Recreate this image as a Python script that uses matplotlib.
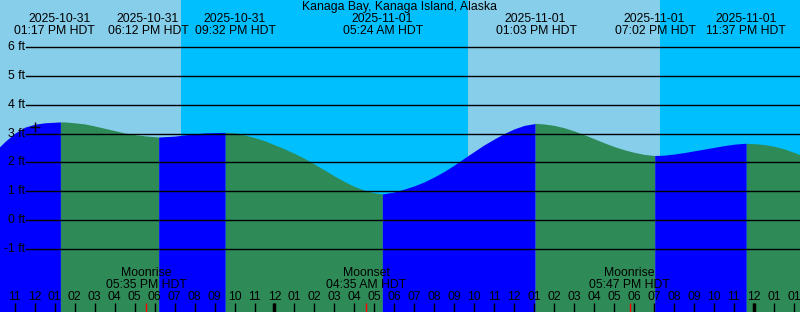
import matplotlib
matplotlib.use("Agg")
import matplotlib.pyplot as plt
import pandas as pd

plt.rcParams['font.family'] = ['Liberation Sans', 'DejaVu Sans']
plt.rcParams['font.size'] = 8.8

title = "Kanaga Bay, Kanaga Island, Alaska"

# high / low tides (HDT)
extreme_times = ["2025-10-31 13:17", "2025-10-31 18:12", "2025-10-31 21:32",
                 "2025-11-01 05:24", "2025-11-01 13:03", "2025-11-01 19:02",
                 "2025-11-01 23:37"]
extreme_heights = [3.40, 2.88, 3.04, 0.91, 3.35, 2.24, 2.66]

# half-hourly heights, starting 10 AM Oct 31
curve_start = "2025-10-31 10:00"
curve_heights = [2.38, 2.72, 3.01, 3.22, 3.32, 3.37, 3.39, 3.40, 3.37, 3.33,
                 3.26, 3.18, 3.10, 3.02, 2.96, 2.92, 2.89, 2.89, 2.91, 2.95,
                 2.99, 3.02, 3.03, 3.04, 3.02, 2.95, 2.86, 2.75,
                 2.61, 2.47, 2.31, 2.14, 1.94, 1.74, 1.53, 1.34, 1.17, 1.04,
                 0.95, 0.92, 0.98, 1.08, 1.19, 1.33, 1.50, 1.69, 1.91, 2.15,
                 2.38, 2.61, 2.81, 3.00, 3.16, 3.28, 3.34, 3.33, 3.28, 3.20,
                 3.09, 2.96, 2.82, 2.68, 2.55, 2.44, 2.35, 2.28, 2.24, 2.25,
                 2.29, 2.34, 2.40, 2.46, 2.52, 2.58, 2.63, 2.66, 2.65, 2.62,
                 2.56, 2.47, 2.35, 2.21, 2.06]

sun_times = ["2025-10-31 19:19", "2025-11-01 09:41", "2025-11-01 19:18"]

moon_times = ["2025-10-31 17:35", "2025-11-01 04:35", "2025-11-01 17:47"]
moon_names = ["Moonrise", "Moonset", "Moonrise"]

now_time = "2025-10-31 12:01"
now_height = 3.24

# hourly tick labels from 11 AM Oct 31 (clock falls back at 2 AM Nov 2)
tick_start = "2025-10-31 11:00"
tick_labels = ["11", "12",
               "01", "02", "03", "04", "05", "06", "07", "08", "09", "10", "11", "12",
               "01", "02", "03", "04", "05", "06", "07", "08", "09", "10", "11", "12",
               "01", "02", "03", "04", "05", "06", "07", "08", "09", "10", "11", "12",
               "01", "01"]
midnights = ["2025-11-01 00:00", "2025-11-02 00:00"]

ft_levels = [-1, 0, 1, 2, 3, 4, 5, 6]

base = pd.Timestamp("2025-11-01 00:00")
PX_PER_HR = 19.975


def hrs(ts):
    return (pd.to_datetime(ts) - base) / pd.Timedelta(hours=1)


day_col = "#87CEEB"
night_col = "#00BFFF"
rise_col = "#0000FF"
fall_col = "#2E8B57"

fig = plt.figure(figsize=(8, 3.12), dpi=100)
ax = fig.add_axes([0, 0, 1, 1])
x0 = -274.5 / PX_PER_HR
x1 = x0 + 800 / PX_PER_HR
y0, y1 = -3.170, 7.615
ax.set_xlim(x0, x1)
ax.set_ylim(y0, y1)
ax.axis('off')

# day / night background
sun_h = list(hrs(sun_times))
edges = [x0] + sun_h + [x1]
for i in range(len(edges) - 1):
    ax.axvspan(edges[i], edges[i + 1], color=day_col if i % 2 == 0 else night_col,
               lw=0, zorder=0)

# tide curve, blue while rising, green while falling
ext_h = list(hrs(extreme_times))
curve_t = pd.date_range(curve_start, periods=len(curve_heights), freq="30min")
tide = pd.DataFrame({"t": list(hrs(curve_t)) + ext_h,
                     "h": curve_heights + extreme_heights}).sort_values("t")
bounds = [tide.t.min()] + ext_h + [tide.t.max()]
for a, b in zip(bounds[:-1], bounds[1:]):
    seg = tide[(tide.t >= a) & (tide.t <= b)]
    rising = seg.h.iloc[-1] > seg.h.iloc[0]
    ax.fill_between(seg.t, seg.h, y0 - 1, color=rise_col if rising else fall_col,
                    lw=0, zorder=1)

# grid lines and height labels
ytrans = ax.get_yaxis_transform()
for lv in ft_levels:
    ax.axhline(lv, xmin=26 / 800, xmax=1, color="black", lw=1, zorder=2)
    ax.text(0.031, lv, f"{lv} ft", transform=ytrans, ha="right", va="center", zorder=3)

ax.plot(hrs(now_time), now_height, marker="+", ms=7.5, mew=1, color="black", zorder=3)

# title and tide labels
xtrans = ax.get_xaxis_transform()
ax.text(0.5, 1 - 7 / 312, title, transform=ax.transAxes, ha="center", va="center")
date_nudge = [-0.7, -10.8, 9.2, -0.4, -0.5, -0.9, 0]
time_nudge = [-5.9, -10.1, 9.8, 0.6, 0.8, 0.3, -0.2]
for t, s, dd, dt in zip(ext_h, extreme_times, date_nudge, time_nudge):
    ts = pd.Timestamp(s)
    ax.text(t + dd / PX_PER_HR, 1 - 19 / 312, ts.strftime("%Y-%m-%d"), transform=xtrans,
            ha="center", va="center", zorder=3)
    ax.text(t + dt / PX_PER_HR, 1 - 31 / 312, ts.strftime("%I:%M %p HDT"), transform=xtrans,
            ha="center", va="center", zorder=3)

# moon events
moon_h = list(hrs(moon_times))
for t, s, name in zip(moon_h, moon_times, moon_names):
    ax.text(t, 39 / 312, name, transform=xtrans, ha="center", va="center", zorder=3)
    ax.text(t, 27 / 312, pd.Timestamp(s).strftime("%I:%M %p HDT"), transform=xtrans,
            ha="center", va="center", zorder=3)

# hour ticks
tick_h = list(hrs(pd.date_range(tick_start, periods=len(tick_labels), freq="h")))
for t, lab in zip(tick_h, tick_labels):
    ax.text(t, 15 / 312, lab, transform=xtrans, ha="center", va="center", zorder=3)
ax.vlines(tick_h, 0, 9 / 312, transform=xtrans, color="black", lw=1, zorder=3)
ax.vlines(list(hrs(midnights)), 0, 9 / 312, transform=xtrans, color="black", lw=2.5, zorder=3)
ax.vlines(moon_h, 0, 9 / 312, transform=xtrans, color="red", lw=1, zorder=4)

fig.savefig("out.png", dpi=100)
plt.close(fig)
